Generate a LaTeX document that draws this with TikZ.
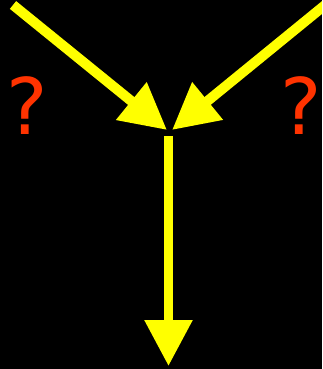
\documentclass[tikz,border=0pt]{standalone}
\usepackage{fontspec}
\setmainfont{DejaVu Sans}
\usetikzlibrary{arrows.meta}
\definecolor{arrowyellow}{RGB}{255,255,0}
\definecolor{qred}{RGB}{255,51,0}
\begin{document}
\begin{tikzpicture}[x=1pt,y=-1pt,
  flow/.style={draw=arrowyellow,line width=10pt,
    -{Triangle[length=46pt,width=46pt,fill=arrowyellow]}},
  qmark/.style={text=qred,font=\fontsize{78}{78}\selectfont,inner sep=0pt,anchor=base}]
\fill[black] (0,0) rectangle (322,369);
\useasboundingbox (0,0) rectangle (322,369);
\clip (0,0) rectangle (322,369);
\coordinate (lstart) at (13,5);
\coordinate (rstart) at (330,1);
\coordinate (ltip) at (167,130);
\coordinate (rtip) at (172,130);
\coordinate (dstart) at (168.5,136);
\coordinate (dtip) at (168.5,366);
\draw[flow] (lstart) -- (ltip);
\draw[flow] (rstart) -- (rtip);
\draw[flow,line width=9pt] (dstart) -- (dtip);
\node[qmark] (ql) at (27.5,134) {?};
\node[qmark] (qr) at (301,134) {?};
\end{tikzpicture}
\end{document}
